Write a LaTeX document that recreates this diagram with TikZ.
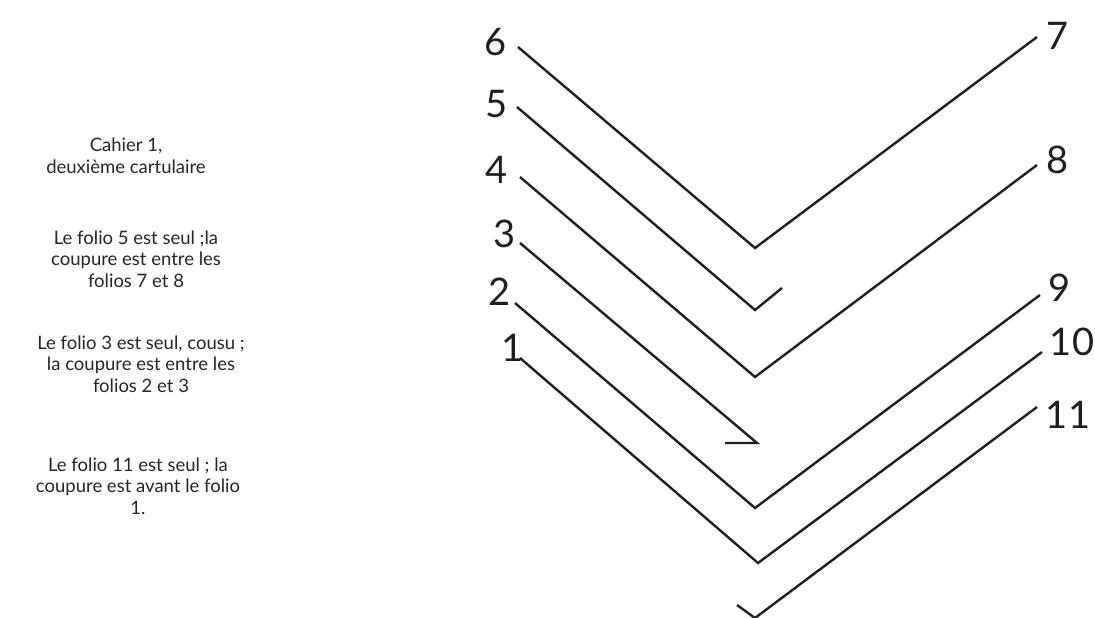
\documentclass[tikz,border=0pt]{standalone}
\usepackage{fontspec}
\setmainfont{Lato}
\begin{document}
\begin{tikzpicture}[x=1pt,y=-1pt,
  fil/.style={draw=black!88,line width=2.4pt,line join=miter},
  num/.style={font=\fontsize{38}{40}\selectfont,text=black!88,inner sep=0pt},
  note/.style={font=\fontsize{18.5}{21.5}\selectfont,text=black!85,align=center,inner sep=0pt}]
\useasboundingbox[fill=white] (0,0) rectangle (1095,618);
% notes
\node[note] (n1) at (126,156) {Cahier 1,\\deuxième cartulaire};
\node[note] (n2) at (136,259) {Le folio 5 est seul ;la\\coupure est entre les\\folios 7 et 8};
\node[note] (n3) at (141,364) {Le folio 3 est seul, cousu ;\\la coupure est entre les\\folios 2 et 3};
\node[note] (n4) at (138,486) {Le folio 11 est seul ; la\\coupure est avant le folio\\1.};
% labels
\node[num] (f6) at (496,42) {6};
\node[num] (f5) at (497,104) {5};
\node[num] (f4) at (497,170) {4};
\node[num] (f3) at (505,234) {3};
\node[num] (f2) at (500,292) {2};
\node[num] (f1) at (513,348) {1};
\node[num] (f7) at (1058,36) {7};
\node[num] (f8) at (1058,160) {8};
\node[num] (f9) at (1060,288) {9};
\node[num] (f10) at (1072,342) {10};
\node[num] (f11) at (1068,415) {11};
% points
\coordinate (s6) at (518,47);  \coordinate (v6) at (755,248); \coordinate (e7) at (1037,37);
\coordinate (s5) at (517,107); \coordinate (v5) at (755,310); \coordinate (t5) at (782,288);
\coordinate (s4) at (520,177); \coordinate (v4) at (755,377); \coordinate (e8) at (1037,165);
\coordinate (s3) at (520,243); \coordinate (v3) at (757,443); \coordinate (t3) at (725,443);
\coordinate (s2) at (515,303); \coordinate (v2) at (755,508); \coordinate (e9) at (1040,295);
\coordinate (s1) at (520,358); \coordinate (v1) at (758,563); \coordinate (e10) at (1042,352);
\coordinate (t11) at (737,605); \coordinate (v11) at (755,618); \coordinate (e11) at (1037,407);
% folds
\draw[fil] (s6) -- (v6) -- (e7);
\draw[fil] (s5) -- (v5) -- (t5);
\draw[fil] (s4) -- (v4) -- (e8);
\draw[fil] (s3) -- (v3) -- (t3);
\draw[fil] (s2) -- (v2) -- (e9);
\draw[fil] (s1) -- (v1) -- (e10);
\draw[fil] (t11) -- (v11) -- (e11);
\end{tikzpicture}
\end{document}
